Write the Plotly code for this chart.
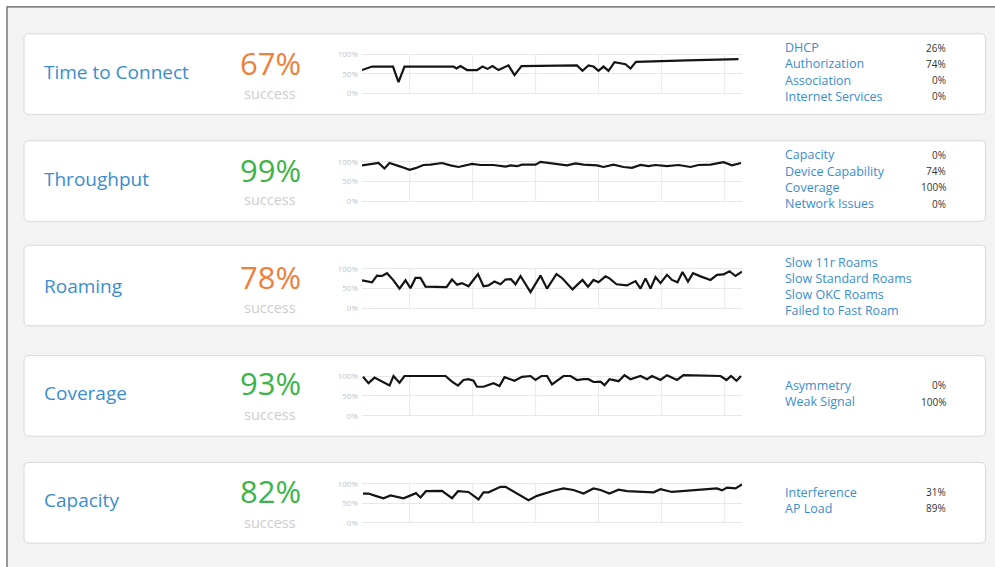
import plotly.graph_objects as go

W, H = 995, 567

# ---------------- data ----------------
titles = ["Time to Connect", "Throughput", "Roaming", "Coverage", "Capacity"]
success_pct = [67, 99, 78, 93, 82]
success_colors = ["#ef7f3b", "#3cb44a", "#ef7f3b", "#3cb44a", "#3cb44a"]

ttc_t = [0.0, 1.0, 2.0, 6.2, 7.3, 8.5, 18.3, 18.9, 19.7, 21.0, 23.0, 24.1, 25.1, 26.1, 27.3,
         29.3, 30.5, 31.9, 43.0, 44.1, 45.3, 46.3, 47.3, 48.3, 49.3, 50.5, 51.7, 52.7, 53.7,
         54.8, 65.0, 75.3]
ttc_v = [60, 64, 69, 69, 29, 69, 69, 64, 70, 60, 60, 69, 63, 70, 60,
         72, 47, 70, 72, 58, 72, 69, 58, 69, 58, 80, 77, 75, 64,
         81, 85, 88]

tput_t = [0, 1.3, 3.3, 4.5, 5.5, 7.7, 9.5, 10.7, 12.3, 13.7, 16.0, 17.7, 19.3, 22.0, 23.7,
          26.3, 28.7, 29.7, 31.0, 32.0, 34.7, 35.7, 37.7, 39.7, 41.0, 42.7, 44.3, 47.0, 48.3,
          50.3, 52.3, 54.0, 55.7, 57.3, 58.7, 61.0, 63.3, 65.7, 67.3, 69.7, 72.3, 74.0, 75.8]
tput_v = [91, 93, 97, 83, 97, 88, 80, 84, 92, 93, 97, 91, 87, 95, 92,
          92, 88, 91, 89, 93, 93, 100, 97, 93, 91, 96, 93, 91, 87,
          93, 87, 85, 92, 89, 92, 89, 92, 87, 92, 93, 99, 91, 97]

roam_t = [0, 2, 3, 4, 5, 6.3, 7.5, 8.7, 9.7, 10.7, 11.7, 12.7, 16.9, 18, 19, 20, 21.3, 23.2,
          24.3, 25.3, 26.5, 27.7, 28.7, 29.8, 30.7, 31.7, 33.7, 35.7, 37, 38.9, 40, 42.1,
          44.1, 45.2, 46.3, 47.3, 48.7, 49.5, 50.9, 53, 54.7, 55.7, 56.7, 57.7, 58.7, 59.7,
          61, 62, 63.1, 64.1, 65.2, 66.2, 67.7, 69.7, 71, 72.3, 73.5, 74.7, 76.0]
roam_v = [71, 66, 83, 82, 89, 71, 50, 71, 51, 77, 77, 55, 54, 73, 60, 64, 56, 87,
          56, 58, 68, 61, 73, 74, 61, 82, 41, 83, 50, 87, 77, 48,
          72, 55, 72, 66, 81, 76, 61, 58, 69, 50, 76, 50, 79, 64,
          85, 72, 66, 92, 68, 89, 81, 72, 85, 86, 94, 82, 93]

cov_t = [0.2, 1.3, 2.5, 4, 5.5, 6.3, 7.5, 8.5, 16.7, 18, 19.2, 20.3, 21.3, 22.3, 23, 24.3,
         26.3, 27.5, 28.5, 30.5, 32, 33.7, 34.7, 35.9, 37, 38, 40.3, 41.7, 43, 44.3,
         45.3, 46.3, 47.7, 48.5, 49.5, 51.3, 52.5, 53.7, 55.7, 57, 58, 59.7, 61, 63, 64.3,
         71.7, 72.9, 73.8, 74.9, 75.8]
cov_v = [98, 82, 96, 86, 76, 100, 83, 100, 100, 86, 76, 90, 92, 88, 73, 73,
         82, 75, 97, 88, 98, 100, 90, 100, 100, 79, 100, 100, 90, 92,
         92, 85, 86, 77, 92, 87, 102, 92, 100, 92, 100, 90, 102, 90, 102,
         100, 90, 100, 88, 100]

cap_t = [0.2, 1.3, 2.7, 4.3, 5.7, 7, 8.3, 9.5, 10.8, 11.7, 12.8, 16, 18, 19.2, 21.3, 23.3,
         24.3, 25.3, 27.7, 28.7, 31, 33.3, 35, 37, 38.3, 40.3, 42.3, 44.3, 46.3, 47.7,
         49.5, 51.3, 53, 58.3, 59.7, 62, 65, 69, 71, 72, 73, 74.7, 76]
cap_v = [75, 75, 69, 63, 70, 67, 63, 69, 76, 65, 81, 82, 63, 81, 79, 60,
         78, 78, 92, 92, 75, 58, 69, 77, 82, 88, 84, 75, 88, 84,
         75, 85, 81, 78, 86, 79, 82, 86, 88, 83, 90, 88, 98]

series_t = [ttc_t, tput_t, roam_t, cov_t, cap_t]
series_v = [ttc_v, tput_v, roam_v, cov_v, cap_v]

issue_labels = [
    ["DHCP", "Authorization", "Association", "Internet Services"],
    ["Capacity", "Device Capability", "Coverage", "Network Issues"],
    ["Slow 11r Roams", "Slow Standard Roams", "Slow OKC Roams", "Failed to Fast Roam"],
    ["Asymmetry", "Weak Signal"],
    ["Interference", "AP Load"],
]
issue_values = [
    ["26%", "74%", "0%", "0%"],
    ["0%", "74%", "100%", "0%"],
    ["", "", "", ""],
    ["0%", "100%"],
    ["31%", "89%"],
]

y_ticks = [0, 50, 100]
y_ticktext = ["0%", "50%", "100%"]

# ---------------- layout geometry (pixels) ----------------
panel_tops = [32, 139.5, 244.5, 355.5, 463]
panel_h = 81
panel_x0, panel_x1 = 24, 985.5
spark_x0, spark_x1 = 362, 742
spark_p100 = [52.7, 160.7, 268.3, 376.0, 484.3]
spark_p0 = [92.0, 200.3, 308.0, 416.0, 523.7]
title_y = [70.5, 178, 286, 393, 501]
pct_y = [61.5, 168.5, 276.5, 383.5, 491.5]
succ_y = [92, 199, 307, 415, 523]
label_y0 = [46.0, 153.8, 261.5, 385.5, 492.8]
label_dy = 16.3

X_RANGE = [0, 76]
GRID_T0, GRID_DT, N_GRID = 9.53, 12.6, 6
Y_RANGE = [-10, 110]

TITLE_BLUE = "#3a8dcf"
FONT = "Open Sans"


def px(x):
    return x / W


def py(y):
    return 1 - y / H


def rounded_rect_path(x0, y0, x1, y1, r):
    rx, ry = r / W, r / H
    X0, X1 = px(x0), px(x1)
    Y0, Y1 = py(y0), py(y1)  # Y0 top (larger), Y1 bottom
    return (f"M {X0+rx},{Y0} L {X1-rx},{Y0} Q {X1},{Y0} {X1},{Y0-ry} "
            f"L {X1},{Y1+ry} Q {X1},{Y1} {X1-rx},{Y1} "
            f"L {X0+rx},{Y1} Q {X0},{Y1} {X0},{Y1+ry} "
            f"L {X0},{Y0-ry} Q {X0},{Y0} {X0+rx},{Y0} Z")


fig = go.Figure()
shapes = []
annotations = []

# page background with dark border on top/left
shapes.append(dict(type="rect", xref="paper", yref="paper",
                   x0=px(7), x1=px(1005), y0=py(5), y1=py(600),
                   fillcolor="#f3f3f3", line=dict(color="#5a5a5a", width=1.2),
                   layer="below"))

layout_axes = {}
for i in range(5):
    n = "" if i == 0 else str(i + 1)
    # panel card
    shapes.append(dict(type="path", xref="paper", yref="paper",
                       path=rounded_rect_path(panel_x0, panel_tops[i], panel_x1,
                                              panel_tops[i] + panel_h, 5),
                       fillcolor="white", line=dict(color="#d9d9d9", width=1),
                       layer="below"))
    # sparkline axes
    unit = (spark_p0[i] - spark_p100[i]) / 100.0
    top_px = spark_p100[i] - (Y_RANGE[1] - 100) * unit
    bot_px = spark_p0[i] + (0 - Y_RANGE[0]) * unit
    layout_axes["xaxis" + n] = dict(domain=[px(spark_x0), px(spark_x1)], range=X_RANGE,
                                    showgrid=False, zeroline=False, showticklabels=False,
                                    showline=False, anchor="y" + n, fixedrange=True)
    layout_axes["yaxis" + n] = dict(domain=[py(bot_px), py(top_px)], range=Y_RANGE,
                                    tickvals=y_ticks, ticktext=y_ticktext,
                                    showgrid=True, gridcolor="#e8e8e8", gridwidth=1,
                                    zeroline=False, showline=False, ticks="",
                                    ticklabelstandoff=3,
                                    tickfont=dict(family=FONT, size=8, color="#c4c4c4"),
                                    anchor="x" + n, fixedrange=True)
    for k in range(N_GRID):
        gx = GRID_T0 + k * GRID_DT
        shapes.append(dict(type="line", xref="x" + n, yref="y" + n,
                           x0=gx, x1=gx, y0=0, y1=100,
                           line=dict(color="#e8e8e8", width=1), layer="below"))
    fig.add_trace(go.Scatter(x=series_t[i], y=series_v[i], mode="lines",
                             line=dict(color="#141414", width=2.2),
                             xaxis="x" + n, yaxis="y" + n, hoverinfo="skip",
                             showlegend=False))

    # texts
    annotations.append(dict(text=titles[i], x=px(42), y=py(title_y[i]), xref="paper",
                            yref="paper", xanchor="left", yanchor="middle", showarrow=False,
                            font=dict(family=FONT, size=19, color=TITLE_BLUE)))
    annotations.append(dict(text=f"{success_pct[i]}%", x=px(270), y=py(pct_y[i]),
                            xref="paper", yref="paper", xanchor="center", yanchor="middle",
                            showarrow=False,
                            font=dict(family=FONT, size=31, color=success_colors[i])))
    annotations.append(dict(text="success", x=px(270), y=py(succ_y[i]), xref="paper",
                            yref="paper", xanchor="center", yanchor="middle", showarrow=False,
                            font=dict(family=FONT, size=14.5, color="#cdcdcd")))
    for j, lab in enumerate(issue_labels[i]):
        yy = label_y0[i] + j * label_dy
        annotations.append(dict(text=lab, x=px(783), y=py(yy), xref="paper", yref="paper",
                                xanchor="left", yanchor="middle", showarrow=False,
                                font=dict(family=FONT, size=12.5, color=TITLE_BLUE)))
        if issue_values[i][j]:
            annotations.append(dict(text=issue_values[i][j], x=px(947.5), y=py(yy),
                                    xref="paper", yref="paper", xanchor="right",
                                    yanchor="middle", showarrow=False,
                                    font=dict(family=FONT, size=10, color="#333333")))

fig.update_layout(width=W, height=H, margin=dict(l=0, r=0, t=0, b=0),
                  paper_bgcolor="white", plot_bgcolor="rgba(0,0,0,0)",
                  shapes=shapes, annotations=annotations, showlegend=False,
                  **layout_axes)

fig.write_html("out.html", config={"displayModeBar": False},
               post_script="document.body.style.margin='0';"
                           "document.body.style.overflow='hidden';")
